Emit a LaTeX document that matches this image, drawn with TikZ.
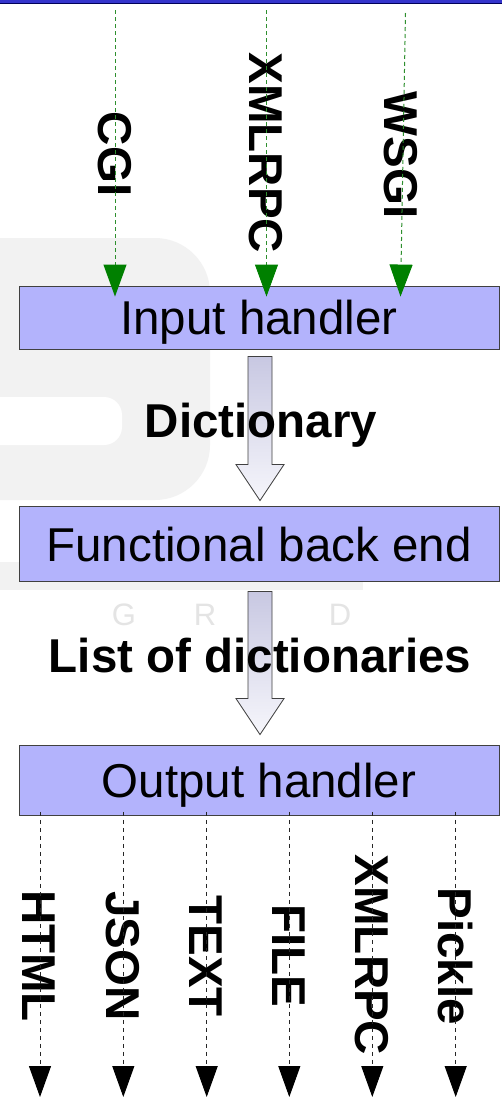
\documentclass[tikz,border=0pt]{standalone}
\usepackage{fontspec}
\setmainfont{Liberation Sans}
\usetikzlibrary{arrows.meta,calc}
\definecolor{boxfill}{HTML}{B3B3FC}
\definecolor{boxline}{HTML}{404040}
\definecolor{ingreen}{HTML}{008000}
\definecolor{indash}{HTML}{2E8F2E}
\definecolor{wm}{HTML}{F2F2F2}
\definecolor{wmtext}{HTML}{E4E4E4}
\definecolor{topbar}{HTML}{3434CC}
\definecolor{arrtop}{HTML}{C8C8E2}
\definecolor{arrbot}{HTML}{F6F6FB}
\tikzset{
 stage/.style={draw=boxline, line width=0.9pt, fill=boxfill, minimum width=480pt, inner sep=0pt,
   text height=34pt, text depth=0pt, font=\fontsize{47.5}{50}\selectfont},
 lbl/.style={rotate=-90, inner sep=0pt, text height=34pt, text depth=0pt,
   font=\fontsize{47.5}{50}\selectfont\bfseries},
 midlbl/.style={inner sep=0pt, text height=34pt, text depth=0pt,
   font=\fontsize{47.5}{50}\selectfont\bfseries},
 inarrow/.style={indash, line width=1pt, dash pattern=on 4pt off 3pt,
   -{Triangle[length=32pt,width=23pt,color=ingreen]}},
 outarrow/.style={black!85, line width=1pt, dash pattern=on 4pt off 4pt,
   -{Triangle[length=31pt,width=22pt,color=black]}},
 blockarrow/.style={draw=boxline, line width=0.8pt, top color=arrtop, bottom color=arrbot},
 wmletter/.style={text=wmtext, inner sep=0pt, text height=22pt, text depth=0pt,
   font=\fontsize{31}{34}\selectfont},
}
\newcommand\blockarr[4]{%
 \path[blockarrow] let \p1=(#1.south), \p2=(#2.north) in
  (\x1-11pt,\y1-#3) -- (\x1+13pt,\y1-#3) -- (\x1+13pt,\y2+#4+36pt) -- (\x1+25pt,\y2+#4+36pt)
  -- (\x1+1pt,\y2+#4) -- (\x1-23pt,\y2+#4+36pt) -- (\x1-11pt,\y2+#4+36pt) -- cycle;}
\begin{document}
\begin{tikzpicture}[x=1pt,y=-1pt]
\useasboundingbox (0,0) rectangle (502,1098);
\fill[white] (0,0) rectangle (502,1098);
% faint background logo
\fill[wm, rounded corners=55pt] (-100,238) rectangle (210,500);
\fill[white, rounded corners=18pt] (-100,397) rectangle (122,445);
\fill[wm] (0,562) rectangle (363,590);
\node[wmletter] (wg) at (124,614) {G};
\node[wmletter] (wr) at (205,614) {R};
\node[wmletter] (wi) at (266,614) {I};
\node[wmletter] (wd) at (340,614) {D};
% top bar
\fill[topbar] (0,0) rectangle (502,3);
\draw[blue!35!black, line width=0.8pt] (0,3.2) -- (502,3.2);
% stages
\node[stage, minimum height=63pt] (in) at (259,317.5) {Input handler};
\node[stage, minimum height=75pt] (fb) at (259,544) {Functional back end};
\node[stage, minimum height=70pt] (out) at (259,780) {Output handler};
% block arrows
\blockarr{in}{fb}{7pt}{5.5pt}
\blockarr{fb}{out}{9.5pt}{10pt}
\node[midlbl] (dict) at (261,420) {Dictionary};
\node[midlbl] (lod) at (260,655) {List of dictionaries};
% input labels and arrows
\node[lbl] (lcgi) at (115,154) {CGI};
\node[lbl] (lxml) at (266.5,153) {XMLRPC};
\node[lbl] (lwsgi) at (401.5,155) {WSGI};
\coordinate (i1) at (115,10);
\coordinate (i2) at (266.5,10);
\coordinate (i3) at (405.5,13);
\coordinate (i3e) at (400.5,0);
\draw[inarrow] (i1) -- ([yshift=-11pt]in.north -| i1);
\draw[inarrow] (i2) -- ([yshift=-11pt]in.north -| i2);
\draw[inarrow] (i3) -- ([yshift=-11pt]in.north -| i3e);
% output labels and arrows
\node[lbl] (lhtml) at (40,956) {HTML};
\node[lbl] (ljson) at (123.3,956) {JSON};
\node[lbl] (ltext) at (206.7,956) {TEXT};
\node[lbl] (lfile) at (289.3,956) {FILE};
\node[lbl] (lxmlo) at (372.3,955) {XMLRPC};
\node[lbl] (lpick) at (455.7,956) {Pickle};
\foreach \n/\x in {o1/40,o2/123.3,o3/206.7,o4/289.3,o5/372.3,o6/455.7}{
  \coordinate (\n) at (\x,1097);
  \draw[outarrow] ([yshift=3.5pt]out.south -| \n) -- (\n);
}
\end{tikzpicture}
\end{document}
